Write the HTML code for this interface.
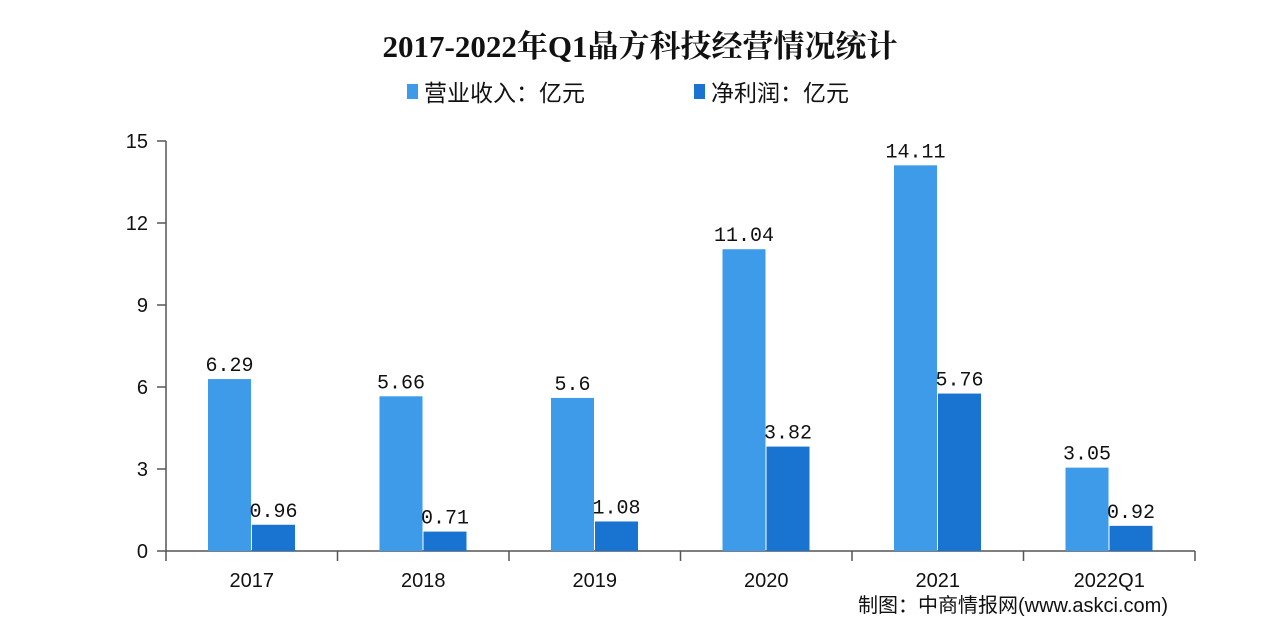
<!DOCTYPE html>
<html><head><meta charset="utf-8"><style>
body{margin:0;background:#fff;width:1270px;height:636px;overflow:hidden;font-family:"Liberation Sans","Noto Sans CJK SC",sans-serif}
</style></head><body>
<svg id="c" width="1270" height="636" style="position:absolute;left:0;top:0">
<text x="640" y="57" text-anchor="middle" font-size="31" font-weight="bold" font-family="'Liberation Serif','Noto Serif CJK SC',serif" fill="#111">2017-2022年Q1晶方科技经营情况统计</text>
<g><rect x="407" y="84" width="11" height="15" fill="#3d9be9"/><text x="424" y="101" font-size="23" fill="#111">营业收入：亿元</text></g>
<g><rect x="694" y="84" width="11" height="15" fill="#1874d0"/><text x="711" y="101" font-size="23" fill="#111">净利润：亿元</text></g>
<text x="1168" y="612" text-anchor="end" font-size="20" fill="#111">制图：中商情报网(www.askci.com)</text>
</svg>
<script>
const categories=["2017","2018","2019","2020","2021","2022Q1"];
const revenue=[6.29,5.66,5.6,11.04,14.11,3.05];
const profit=[0.96,0.71,1.08,3.82,5.76,0.92];
const yTicks=[0,3,6,9,12,15];
const NS="http://www.w3.org/2000/svg",svg=document.getElementById('c');
const x0=166,x1=1195,y0=551,yTop=141,yMax=15;
const bw=(x1-x0)/categories.length;
const Y=v=>y0-(v/yMax)*(y0-yTop);
function el(t,a){const e=document.createElementNS(NS,t);for(const k in a)e.setAttribute(k,a[k]);svg.appendChild(e);return e;}
let ax=el('line',{x1:x0,y1:yTop,x2:x0,y2:y0,stroke:'#555','stroke-width':1.5});


let bx=el('line',{x1:x0,y1:y0,x2:x1,y2:y0,stroke:'#555','stroke-width':1.5});


yTicks.forEach(v=>{
 el('line',{x1:x0-9,y1:Y(v),x2:x0,y2:Y(v),stroke:'#555','stroke-width':1.5});
 const t=el('text',{x:148,y:Y(v)+7,'text-anchor':'end','font-size':20,fill:'#111'});t.textContent=v;
 
 
});
for(let i=0;i<=categories.length;i++)el('line',{x1:x0+i*bw,y1:y0,x2:x0+i*bw,y2:y0+10,stroke:'#555','stroke-width':1.5});
categories.forEach((c,i)=>{
 const gx=x0+i*bw;
 const t=el('text',{x:gx+bw/2,y:587,'text-anchor':'middle','font-size':20,fill:'#111'});t.textContent=c;
 
 
 [[revenue[i],'#3d9be9',42,'bar-revenue'],[profit[i],'#1874d0',86,'bar-profit']].forEach(([v,col,off,nm])=>{
  const r=el('rect',{x:gx+off,y:Y(v),width:43,height:y0-Y(v),fill:col});
  
  
  const l=el('text',{x:gx+off+21.5,y:Y(v)-8,'text-anchor':'middle','font-size':20,fill:'#111','font-family':"'Liberation Mono',monospace"});l.textContent=v;
  
  
 });
});
</script>
</body></html>
